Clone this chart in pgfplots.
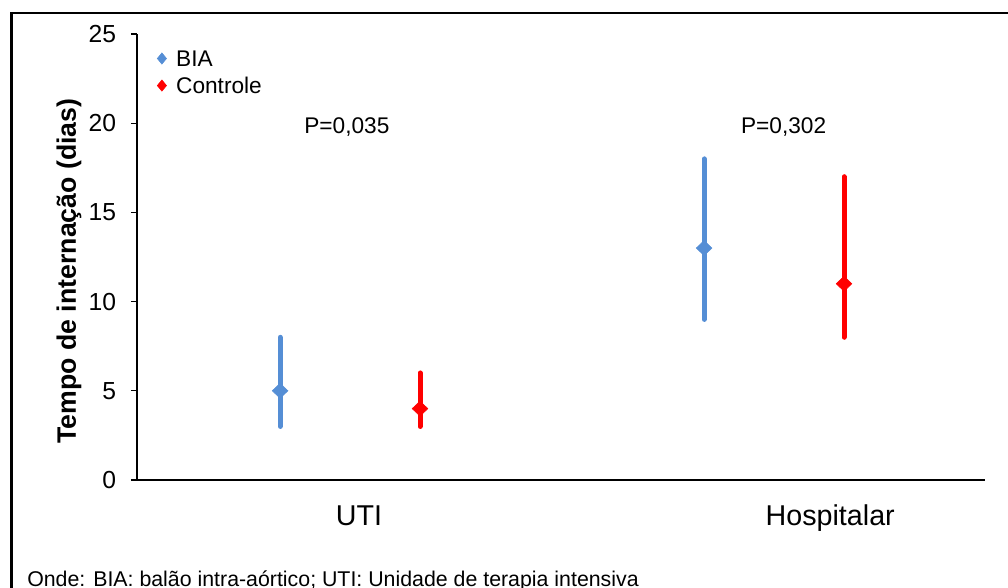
\documentclass[border=0pt]{standalone}
\usepackage{pgfplots}
\pgfplotsset{compat=1.18}
\usepackage{fontspec}
\setmainfont{Liberation Sans}
\definecolor{bia}{RGB}{85,142,213}
\definecolor{ctrl}{RGB}{255,0,0}

\begin{document}
\begin{tikzpicture}[x=0.75pt,y=0.75pt]
\useasboundingbox (0,0) rectangle (1008,588);
\begin{scope}
\clip (0,0) rectangle (1008,588);
\draw[line width=1.8pt] (11.5,575) rectangle (1040,-40);
\node[anchor=base west, inner sep=0pt, font=\fontsize{16}{18}\selectfont] at (27,1) {Onde: BIA: balão intra-aórtico; UTI: Unidade de terapia intensiva};
\end{scope}
\node[rotate=90, anchor=base, inner sep=0pt, font=\bfseries\fontsize{20}{24}\selectfont] at (76,317) {Tempo de internação (dias)};
\begin{axis}[
  at={(102.75pt,81pt)}, anchor=south west,
  width=636pt, height=334.5pt, scale only axis,
  xmin=0, xmax=4, ymin=0, ymax=25,
  axis x line=bottom, axis y line=left,
  axis line style={-, line width=1pt},
  ytick={0,5,10,15,20,25},
  xtick={1.047,3.27}, xticklabels={UTI,Hospitalar},
  tick align=outside, major tick length=4.5pt,
  x tick style={draw=none},
  y tick style={line width=1pt, black},
  /pgf/number format/assume math mode=true,
  yticklabel style={font=\fontsize{18.5}{20}\selectfont, anchor=east, inner sep=0pt, xshift=-11pt},
  xticklabel style={font=\fontsize{21.5}{24}\selectfont, anchor=base, inner sep=0pt, yshift=-30pt},
  clip=false,
  legend style={at={(rel axis cs:0.0236,0.964)}, anchor=north west, draw=none, fill=none,
    font=\fontsize{17}{20}\selectfont, inner sep=0pt, row sep=8pt,
    nodes={inner sep=0pt, text height=12.3pt, text depth=0pt}},
  legend cell align=left,
  legend image code/.code={\draw[#1, mark size=4.2pt, mark options={xscale=1.1}] plot coordinates {(0pt,0pt)}; \path (10.5pt,0pt);},
]
\addplot+[only marks, mark=diamond*, mark size=5.6pt, color=bia, mark options={xscale=1.4, fill=bia, draw=bia},
  error bars/.cd, y dir=both, y explicit, error mark=none,
  error bar style={line width=3.75pt, line cap=round, color=bia}]
  coordinates {(0.675,5) += (0,3) -= (0,2) (2.675,13) += (0,5) -= (0,4)};
\addlegendentry{BIA}
\addplot+[only marks, mark=diamond*, mark size=5.6pt, color=ctrl, mark options={xscale=1.4, fill=ctrl, draw=ctrl},
  error bars/.cd, y dir=both, y explicit, error mark=none,
  error bar style={line width=3.75pt, line cap=round, color=ctrl}]
  coordinates {(1.335,4) += (0,2) -= (0,1) (3.335,11) += (0,6) -= (0,3)};
\addlegendentry{Controle}
\node[anchor=base, inner sep=0pt, font=\fontsize{17}{20}\selectfont] at (axis cs:0.99,19.45) {P=0,035};
\node[anchor=base, inner sep=0pt, font=\fontsize{17}{20}\selectfont] at (axis cs:3.05,19.45) {P=0,302};
\end{axis}
\end{tikzpicture}
\end{document}
